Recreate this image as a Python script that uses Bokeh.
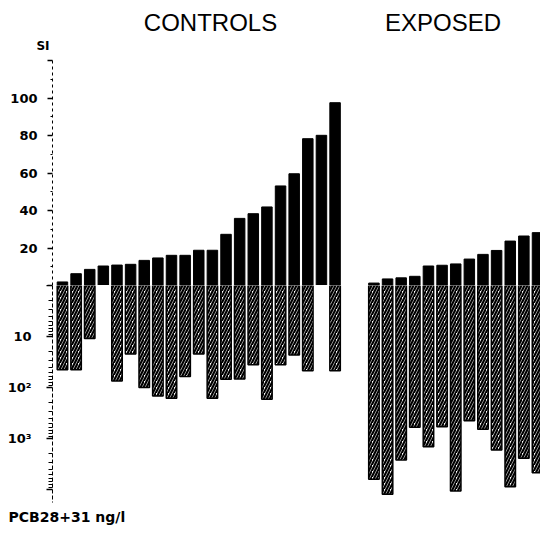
from bokeh.plotting import figure
from bokeh.layouts import column
from bokeh.models import Range1d, FixedTicker, Label, Title
from bokeh.embed import file_html
from bokeh.resources import INLINE

# ---- data ----
controls_si = [1.9, 6.3, 8.6, 10.4, 10.9, 11.3, 13.4, 14.7, 16.1, 16.1, 18.8,
               18.8, 27.3, 35.8, 38.3, 41.9, 53.1, 59.6, 78.3, 80.1, 97.5]
controls_pcb = [45, 45, 11, None, 75, 22, 100, 147, 163, 61, 22,
                163, 69, 68, 36, 170, 36, 23, 47, None, 47]
exposed_si = [1.3, 3.5, 4.1, 4.9, 10.4, 10.8, 11.5, 14.1, 16.6, 18.7, 23.7, 26.4, 28.2]
exposed_pcb = [6300, 12400, 2640, 605, 1450, 587, 10700, 448, 660, 1680, 8800, 2445, 4690]

si_ticks = [0, 20, 40, 60, 80, 100, 120]
si_tick_labels = {0: "", 20: "20", 40: "40", 60: "60", 80: "80", 100: "100", 120: ""}
pcb_ticks = [1, 10, 100, 1000, 10000]
pcb_tick_labels = {1: "", 10: "10", 100: "10\u00b2", 1000: "10\u00b3", 10000: ""}
group_titles = ["CONTROLS", "EXPOSED"]
si_title = "SI"
pcb_title = "PCB28+31 ng/l"

GROUP_GAP = 22.85  # position of first exposed bar (in bar slots)

xs_c = list(range(len(controls_si)))
xs_e = [GROUP_GAP + i for i in range(len(exposed_si))]

si_x = xs_c + xs_e
si_v = controls_si + exposed_si
pcb_x, pcb_v = [], []
for x, v in zip(xs_c + xs_e, controls_pcb + exposed_pcb):
    if v is not None:
        pcb_x.append(x)
        pcb_v.append(v)

W = 540
x_range = Range1d(-0.73, 35.07)
BAR_W = 0.77
TICK_FONT = "DejaVu Sans"


def bare(height, y_range):
    f = figure(width=W, height=height, x_range=x_range, y_range=y_range,
               output_backend="svg", toolbar_location=None,
               min_border_left=52, min_border_right=0, min_border_top=0, min_border_bottom=0)
    f.xaxis.visible = False
    f.yaxis.visible = False
    f.xgrid.visible = False
    f.ygrid.visible = False
    f.outline_line_color = None
    return f


# ---- header: group titles and SI label ----
head = bare(52, Range1d(52, 0))
for name, xc in zip(group_titles, [10.86, 27.92]):
    head.add_layout(Label(x=xc, y=22, text=name, text_font="Liberation Sans", text_color="black",
                          text_font_size="24px", text_align="center", text_baseline="alphabetic"))
ha = head.yaxis[0]
ha.visible = True
ha.ticker = FixedTicker(ticks=[45], minor_ticks=[])
ha.major_label_overrides = {45: si_title}
ha.axis_line_color = None
ha.major_tick_line_color = None
ha.minor_tick_line_color = None
ha.major_tick_out = 0
ha.major_tick_in = 0
ha.minor_tick_out = 0
ha.minor_tick_in = 0
ha.major_label_standoff = 3
ha.major_label_text_font = TICK_FONT
ha.major_label_text_font_style = "bold"
ha.major_label_text_font_size = "12px"
ha.major_label_text_color = "black"

# ---- top figure: SI (linear, upward) ----
top = figure(width=W, height=233, x_range=x_range, y_range=Range1d(0, 124.27),
             output_backend="svg", toolbar_location=None,
             min_border_left=52, min_border_right=0, min_border_top=0, min_border_bottom=0)
top.vbar(x=si_x, top=si_v, bottom=0, width=BAR_W, fill_color="black", line_color="black", line_width=1)
top.xaxis.visible = False
top.xgrid.visible = False
top.ygrid.visible = False
top.outline_line_color = None
ya = top.yaxis[0]
ya.ticker = FixedTicker(ticks=si_ticks, minor_ticks=[10, 30, 50, 70, 90, 110])
ya.major_label_overrides = si_tick_labels
ya.bounds = (0, 120)
ya.axis_line_color = "black"
ya.axis_line_dash = "3 3"
ya.axis_line_width = 1
ya.major_tick_out = 5
ya.major_tick_in = 0
ya.minor_tick_out = 2
ya.minor_tick_in = 0
ya.major_tick_line_width = 1.5
ya.major_label_standoff = 10
ya.major_label_text_font = TICK_FONT
ya.major_label_text_font_style = "bold"
ya.major_label_text_font_size = "13px"
ya.major_label_text_color = "black"

# ---- bottom figure: PCB (log, downward) ----
bot = figure(width=W, height=220, x_range=x_range, y_range=Range1d(10 ** 4.314, 1),
             y_axis_type="log", output_backend="svg", toolbar_location=None,
             min_border_left=52, min_border_right=0, min_border_top=0, min_border_bottom=0)
bot.vbar(x=pcb_x, top=pcb_v, bottom=1, width=BAR_W, fill_color="white",
         line_color="black", line_width=1.5,
         hatch_pattern="/", hatch_color="black", hatch_scale=6, hatch_weight=2.2)
bot.xaxis.visible = False
bot.xgrid.visible = False
bot.ygrid.visible = False
bot.outline_line_color = None
minor = []
for d in [1, 10, 100, 1000, 10000]:
    for m in range(2, 10):
        if d * m <= 10 ** 4.26:
            minor.append(d * m)
yb = bot.yaxis[0]
yb.ticker = FixedTicker(ticks=pcb_ticks, minor_ticks=minor)
yb.major_label_overrides = pcb_tick_labels
yb.bounds = (1, 10 ** 4.26)
yb.axis_line_color = "black"
yb.axis_line_dash = "4 2"
yb.axis_line_width = 1
yb.major_tick_out = 6
yb.major_tick_in = 0
yb.minor_tick_out = 4
yb.minor_tick_in = 0
yb.major_tick_line_width = 1.5
yb.major_label_standoff = 15
yb.major_label_text_font = TICK_FONT
yb.major_label_text_font_style = "bold"
yb.major_label_text_font_size = "13px"
yb.major_label_text_color = "black"

# ---- footer: PCB label as a title ----
foot = bare(28, Range1d(0, 1))
foot.add_layout(Title(text=pcb_title, align="left", offset=-44, standoff=3,
                      text_font=TICK_FONT, text_font_style="bold", text_font_size="14px",
                      text_color="black"), "above")

layout = column(head, top, bot, foot)
open("out.html", "w").write(file_html(layout, INLINE))
